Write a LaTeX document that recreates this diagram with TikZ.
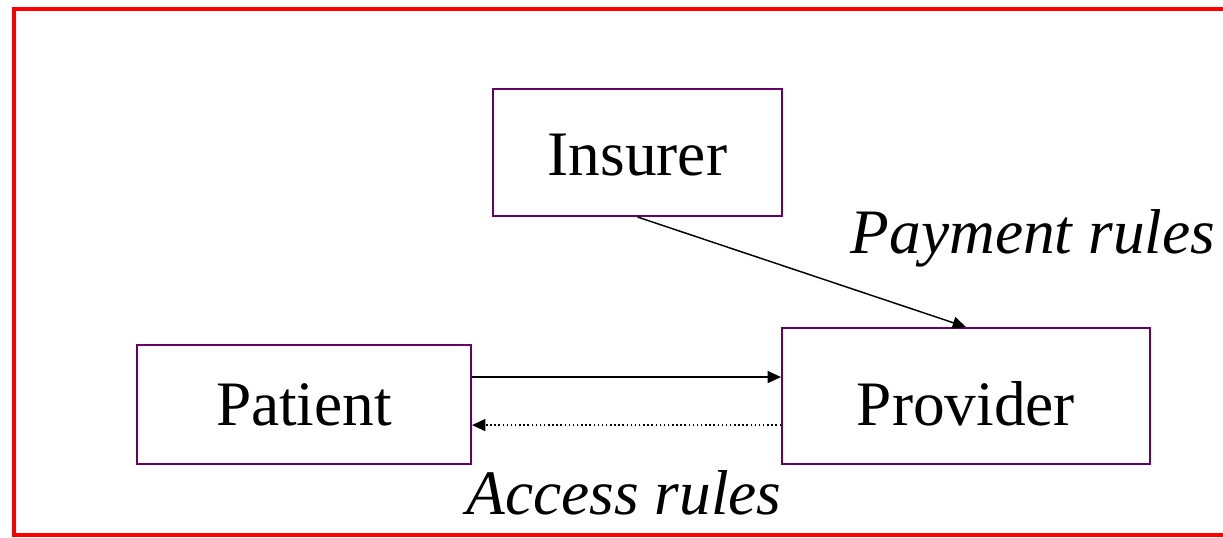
\documentclass[tikz,border=0pt]{standalone}
\usepackage{fontspec}
\setmainfont{Liberation Serif}
\usetikzlibrary{arrows.meta}
\definecolor{boxpurple}{RGB}{102,0,102}
\begin{document}
\begin{tikzpicture}[x=0.75pt,y=-0.75pt,
  agent/.style={draw=boxpurple,line width=1.5pt,rectangle,inner sep=0pt,
    text depth=0pt,font=\fontsize{47.5}{56}\selectfont},
  rulelabel/.style={font=\fontsize{47.5}{56}\selectfont\itshape,inner sep=0pt},
  tip/.style={-{Triangle[length=10pt,width=9pt]},line width=1.1pt}]
\useasboundingbox (0,0) rectangle (1223,537);
\clip (0,0) rectangle (1223,537);
\draw[red,line width=3pt] (14,9) rectangle (1240,535);
\node[agent,text height=35pt,minimum width=289*0.75pt,minimum height=127*0.75pt] (insurer) at (637.5,152.5) {Insurer};
\node[agent,text height=31pt,minimum width=334*0.75pt,minimum height=119*0.75pt] (patient) at (304,404.5) {Patient};
\node[agent,text height=43.5pt,minimum width=368*0.75pt,minimum height=136*0.75pt] (provider) at (966,396) {Provider};
\node[rulelabel] (payment) at (1033,238) {Payment rules};
\node[rulelabel] (access) at (624,493) {Access rules};
\draw[tip] (insurer.south) -- (provider.north);
\draw[tip] ([yshift=20.6pt]patient.east) -- ([yshift=20.6pt]patient.east -| provider.west);
\draw[tip,dotted] ([yshift=-15.4pt]patient.east -| provider.west) -- ([yshift=-15.4pt]patient.east);
\end{tikzpicture}
\end{document}
